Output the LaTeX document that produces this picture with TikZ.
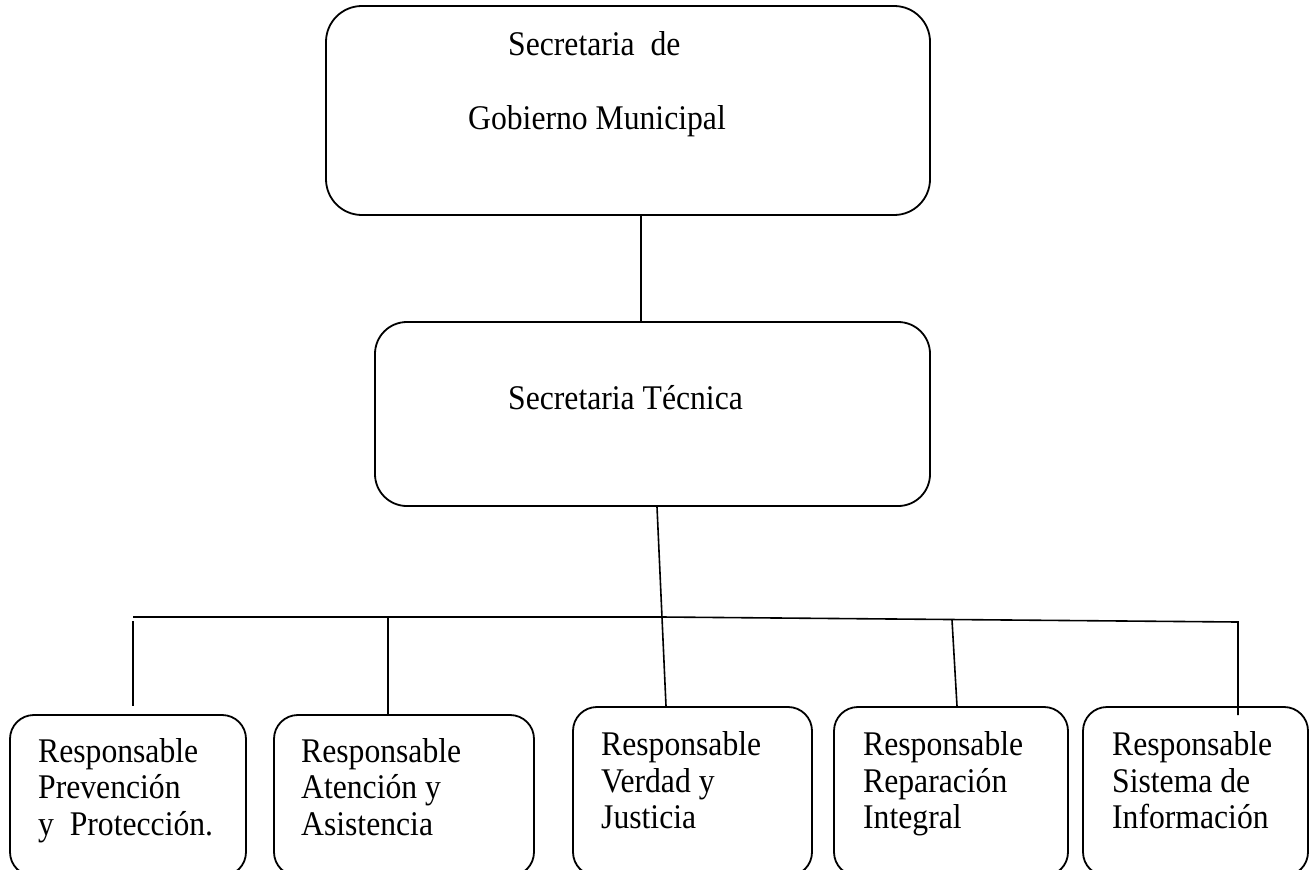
\documentclass[tikz,border=0pt]{standalone}
\usepackage{fontspec}
\setmainfont{Liberation Serif}
\begin{document}
\begin{tikzpicture}[x=1bp,y=-1bp,
  box/.style={draw, line width=1.8bp, inner sep=0pt, rounded corners=#1},
  conn/.style={line width=1.6bp},
  lbl/.style={anchor=base west, inner sep=0pt, xscale=0.915, font=\fontsize{34.6bp}{36bp}\selectfont}]
\useasboundingbox (0,0) rectangle (1314,869);
\clip (0,0) rectangle (1314,869);
% boxes
\node[box=36, minimum width=604bp, minimum height=209bp] (top) at (628,110.5) {};
\node[box=32, minimum width=555bp, minimum height=184bp] (tec) at (652.5,414) {};
\node[box=24, minimum width=236bp, minimum height=161bp] (b1) at (128,795.5) {};
\node[box=24, minimum width=260bp, minimum height=161bp] (b2) at (404,795.5) {};
\node[box=24, minimum width=239bp, minimum height=169bp] (b3) at (692.5,791.5) {};
\node[box=24, minimum width=234bp, minimum height=169bp] (b4) at (951,791.5) {};
\node[box=24, minimum width=225bp, minimum height=169bp] (b5) at (1195.5,791.5) {};
% texts
\node[lbl] (t0a) at (508,55) {Secretaria\ \ de};
\node[lbl] (t0b) at (468,129) {Gobierno Municipal};
\node[lbl] (t1) at (508,409) {Secretaria Técnica};
\node[lbl] (p1) at (38,762) {Responsable};
\node[lbl] (p2) at (38,798) {Prevención};
\node[lbl] (p3) at (38,835) {y\ \ Protección.};
\node[lbl] (a1) at (301,762) {Responsable};
\node[lbl] (a2) at (301,798) {Atención y};
\node[lbl] (a3) at (301,835) {Asistencia};
\node[lbl] (v1) at (601,755) {Responsable};
\node[lbl] (v2) at (601,792) {Verdad y};
\node[lbl] (v3) at (601,828) {Justicia};
\node[lbl] (r1) at (863,755) {Responsable};
\node[lbl] (r2) at (863,792) {Reparación};
\node[lbl] (r3) at (863,828) {Integral};
\node[lbl] (s1) at (1112,755) {Responsable};
\node[lbl] (s2) at (1112,792) {Sistema de};
\node[lbl] (s3) at (1112,828) {Información};
% junction coordinates
\path (top.south) ++(13,0) coordinate (j0);
\path (tec.south) ++(4.5,0) coordinate (s0);
\path (b3.north) ++(-26.5,0) coordinate (s3e);
\coordinate (hL) at (133,617);
\coordinate (hM) at (662,617);
\coordinate (hR) at (1238,622);
\coordinate (d1a) at (133,621);
\path (b1.north) ++(5,-8) coordinate (d1b);
\coordinate (d2a) at (388,617);
\coordinate (d4a) at (952,620);
\path (b4.north) ++(6,0) coordinate (d4b);
\path (b5.north) ++(42.5,9) coordinate (d5);
% connectors
\draw[conn] (j0) -- (j0 |- tec.north);
\draw[conn] (s0) -- (s3e);
\draw[conn] (hL) -- (hM) -- (hR) -- (d5);
\draw[conn] (d1a) -- (d1b);
\draw[conn] (d2a) -- (d2a |- b2.north);
\draw[conn] (d4a) -- (d4b);
\end{tikzpicture}
\end{document}
